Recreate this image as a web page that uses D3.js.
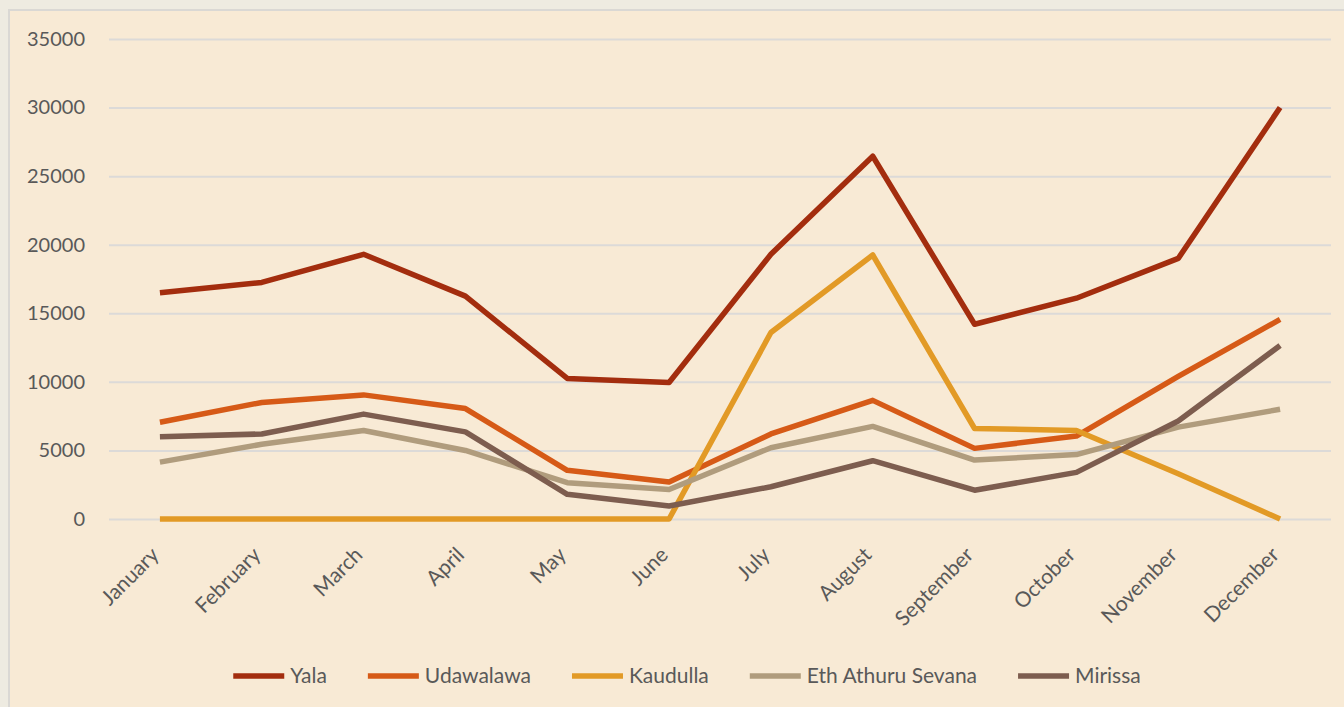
<!DOCTYPE html>
<html>
<head>
<meta charset="utf-8">
<script src="https://cdn.jsdelivr.net/npm/d3@7/dist/d3.min.js"></script>
<style>
    body { margin: 0; background: #EEEBE1; }
    svg { display: block; }
    text { font-family: Lato, "Open Sans", sans-serif; fill: #595959; }
</style>
</head>
<body>
<svg width="1344" height="707"></svg>
<script>
var months = ["January", "February", "March", "April", "May", "June",
    "July", "August", "September", "October", "November", "December"];

var yala      = [16500, 17250, 19300, 16250, 10250, 9950, 19300, 26450, 14200, 16100, 19000, 30000];
var udawalawa = [7050, 8500, 9050, 8050, 3550, 2700, 6200, 8650, 5150, 6050, 10400, 14550];
var kaudulla  = [0, 0, 0, 0, 0, 0, 13600, 19250, 6600, 6450, 3300, 0];
var ethAthuru = [4150, 5450, 6450, 5000, 2650, 2150, 5200, 6750, 4300, 4700, 6700, 8000];
var mirissa   = [6000, 6200, 7650, 6350, 1800, 950, 2350, 4250, 2100, 3400, 7150, 12650];

var seriesNames = ["Yala", "Udawalawa", "Kaudulla", "Eth Athuru Sevana", "Mirissa"];
var seriesValues = [yala, udawalawa, kaudulla, ethAthuru, mirissa];
var colors = ["#A32D0E", "#D65A17", "#E29A26", "#B09C7D", "#7D5D4F"];

var yTicks = [0, 5000, 10000, 15000, 20000, 25000, 30000, 35000];

var svg = d3.select("svg");

// chart area
svg.append("rect")
    .attr("x", 9).attr("y", 10)
    .attr("width", 1345).attr("height", 705)
    .attr("fill", "#F8EAD5")
    .attr("stroke", "#DAD8D4")
    .attr("stroke-width", 2);

var plotLeft = 109, plotRight = 1331, plotTop = 39, plotBottom = 519;

var x = d3.scaleBand().domain(months).range([plotLeft, plotRight]);
var y = d3.scaleLinear().domain([0, 35000]).range([plotBottom, plotTop]);

// gridlines + y labels
var yAxis = svg.append("g")
    .attr("transform", "translate(" + plotLeft + ",0)")
    .call(d3.axisLeft(y).tickValues(yTicks).tickSize(-(plotRight - plotLeft)).tickPadding(24).tickFormat(d3.format("d")));
yAxis.select(".domain").remove();
yAxis.selectAll(".tick line").attr("stroke", "#DCDAD8").attr("stroke-width", 2);
yAxis.selectAll(".tick text")
    .attr("font-size", 20)
    .attr("font-family", "Lato, sans-serif")
    .attr("fill", "#595959");

// x labels
svg.append("g").selectAll("text")
    .data(months)
    .enter().append("text")
    .attr("transform", function(d) {
        return "translate(" + (x(d) + x.bandwidth() / 2 - 5) + "," + (plotBottom + 32) + ") rotate(-45)";
    })
    .attr("text-anchor", "end")
    .attr("dy", "0.35em")
    .attr("font-size", 21)
    .attr("fill", "#636363")
    .text(function(d) { return d; });

// lines
var line = d3.line()
    .x(function(d, i) { return x(months[i]) + x.bandwidth() / 2; })
    .y(function(d) { return y(d); });

svg.append("g").selectAll("path")
    .data(seriesValues)
    .enter().append("path")
    .attr("d", line)
    .attr("fill", "none")
    .attr("stroke", function(d, i) { return colors[i]; })
    .attr("stroke-width", 5.5)
    .attr("stroke-linejoin", "round");

// legend
var legend = svg.append("g");
var item = legend.selectAll("g")
    .data(seriesNames)
    .enter().append("g");
item.append("line")
    .attr("x1", 0).attr("x2", 51)
    .attr("y1", 0).attr("y2", 0)
    .attr("stroke", function(d, i) { return colors[i]; })
    .attr("stroke-width", 5.5);
item.append("text")
    .attr("x", 57)
    .attr("dy", "0.35em")
    .attr("font-size", 21)
    .text(function(d) { return d; });

var gap = 41;
var pos = 0, offsets = [];
item.each(function() {
    offsets.push(pos);
    pos += 57 + this.querySelector("text").getComputedTextLength() + gap;
});
var total = pos - gap;
var startX = 687 - total / 2;
item.attr("transform", function(d, i) { return "translate(" + (startX + offsets[i]) + ",676)"; });
</script>
</body>
</html>
